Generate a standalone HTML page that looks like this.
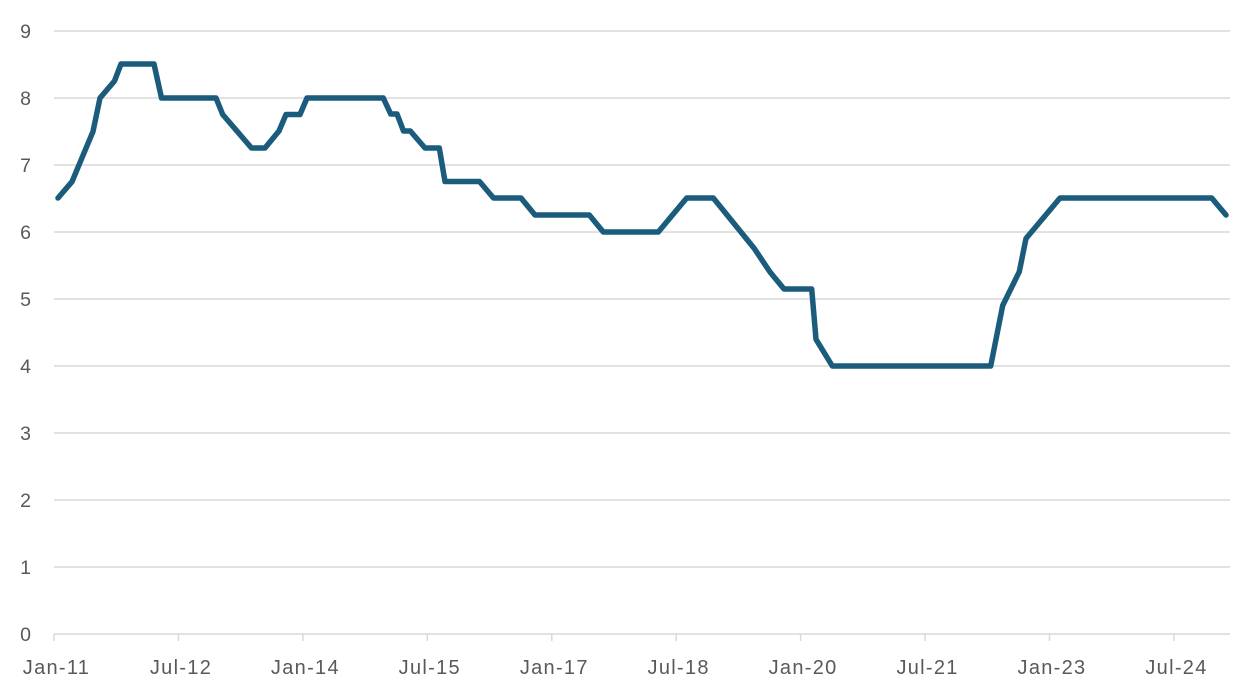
<!DOCTYPE html>
<html>
<head>
<meta charset="utf-8">
<style>
  html, body { margin: 0; padding: 0; background: #ffffff; }
  body { width: 1260px; height: 699px; overflow: hidden; }
  svg { display: block; }
  .yl { font-family: "Liberation Sans", sans-serif; font-size: 19.5px; fill: #595959; }
  .xl { font-family: "Liberation Sans", sans-serif; font-size: 20px; fill: #595959; letter-spacing: 1.3px; }
</style>
</head>
<body>
<svg width="1260" height="699" viewBox="0 0 1260 699" xmlns="http://www.w3.org/2000/svg">
  <rect width="1260" height="699" fill="#ffffff"/>
  <!-- gridlines -->
  <g stroke="#d9d9d9" stroke-width="1.5">
    <line x1="54" y1="31" x2="1230" y2="31"/>
    <line x1="54" y1="98" x2="1230" y2="98"/>
    <line x1="54" y1="165" x2="1230" y2="165"/>
    <line x1="54" y1="232" x2="1230" y2="232"/>
    <line x1="54" y1="299" x2="1230" y2="299"/>
    <line x1="54" y1="366" x2="1230" y2="366"/>
    <line x1="54" y1="433" x2="1230" y2="433"/>
    <line x1="54" y1="500" x2="1230" y2="500"/>
    <line x1="54" y1="567" x2="1230" y2="567"/>
    <line x1="54" y1="634" x2="1230" y2="634"/>
  </g>
  <!-- ticks -->
  <g stroke="#d9d9d9" stroke-width="1.5">
    <line x1="54" y1="634" x2="54" y2="641"/>
    <line x1="178.4" y1="634" x2="178.4" y2="641"/>
    <line x1="302.9" y1="634" x2="302.9" y2="641"/>
    <line x1="427.3" y1="634" x2="427.3" y2="641"/>
    <line x1="551.8" y1="634" x2="551.8" y2="641"/>
    <line x1="676.2" y1="634" x2="676.2" y2="641"/>
    <line x1="800.6" y1="634" x2="800.6" y2="641"/>
    <line x1="925.1" y1="634" x2="925.1" y2="641"/>
    <line x1="1049.5" y1="634" x2="1049.5" y2="641"/>
    <line x1="1174" y1="634" x2="1174" y2="641"/>
  </g>
  <!-- y labels -->
  <g class="yl" text-anchor="end">
    <text x="31" y="38">9</text>
    <text x="31" y="105">8</text>
    <text x="31" y="172">7</text>
    <text x="31" y="239">6</text>
    <text x="31" y="306">5</text>
    <text x="31" y="373">4</text>
    <text x="31" y="440">3</text>
    <text x="31" y="507">2</text>
    <text x="31" y="574">1</text>
    <text x="31" y="641">0</text>
  </g>
  <!-- x labels -->
  <g class="xl" text-anchor="middle">
    <text x="56.5" y="674">Jan-11</text>
    <text x="181" y="674">Jul-12</text>
    <text x="305.4" y="674">Jan-14</text>
    <text x="429.8" y="674">Jul-15</text>
    <text x="554.3" y="674">Jan-17</text>
    <text x="678.7" y="674">Jul-18</text>
    <text x="803.1" y="674">Jan-20</text>
    <text x="927.6" y="674">Jul-21</text>
    <text x="1052" y="674">Jan-23</text>
    <text x="1176.5" y="674">Jul-24</text>
  </g>
  <!-- series -->
  <polyline fill="none" stroke="#1b5c7c" stroke-width="5.5" stroke-linejoin="round" stroke-linecap="round"
    points="58,198 72,181.7 93,131.5 100,98 114.5,81 121,64 154,64 161.5,98 216,98 222.7,114.5 251.5,148 265,148 279,131 286,114.5 300,114.5 307,98 383.3,98 390.7,114 397,114 403.5,131 410.3,131 425,148 439.3,148 445,181.5 479.5,181.5 493.5,198 521,198 535,215 589.3,215 603.3,232 658.3,232 686.7,198 713.3,198 754.3,248.5 770,272 784,289 811.7,289 816,339.3 832.3,366 990.7,366 1002.7,305.5 1019.3,271.7 1026,238.5 1060,198 1211.7,198 1226,215"/>
</svg>
</body>
</html>
